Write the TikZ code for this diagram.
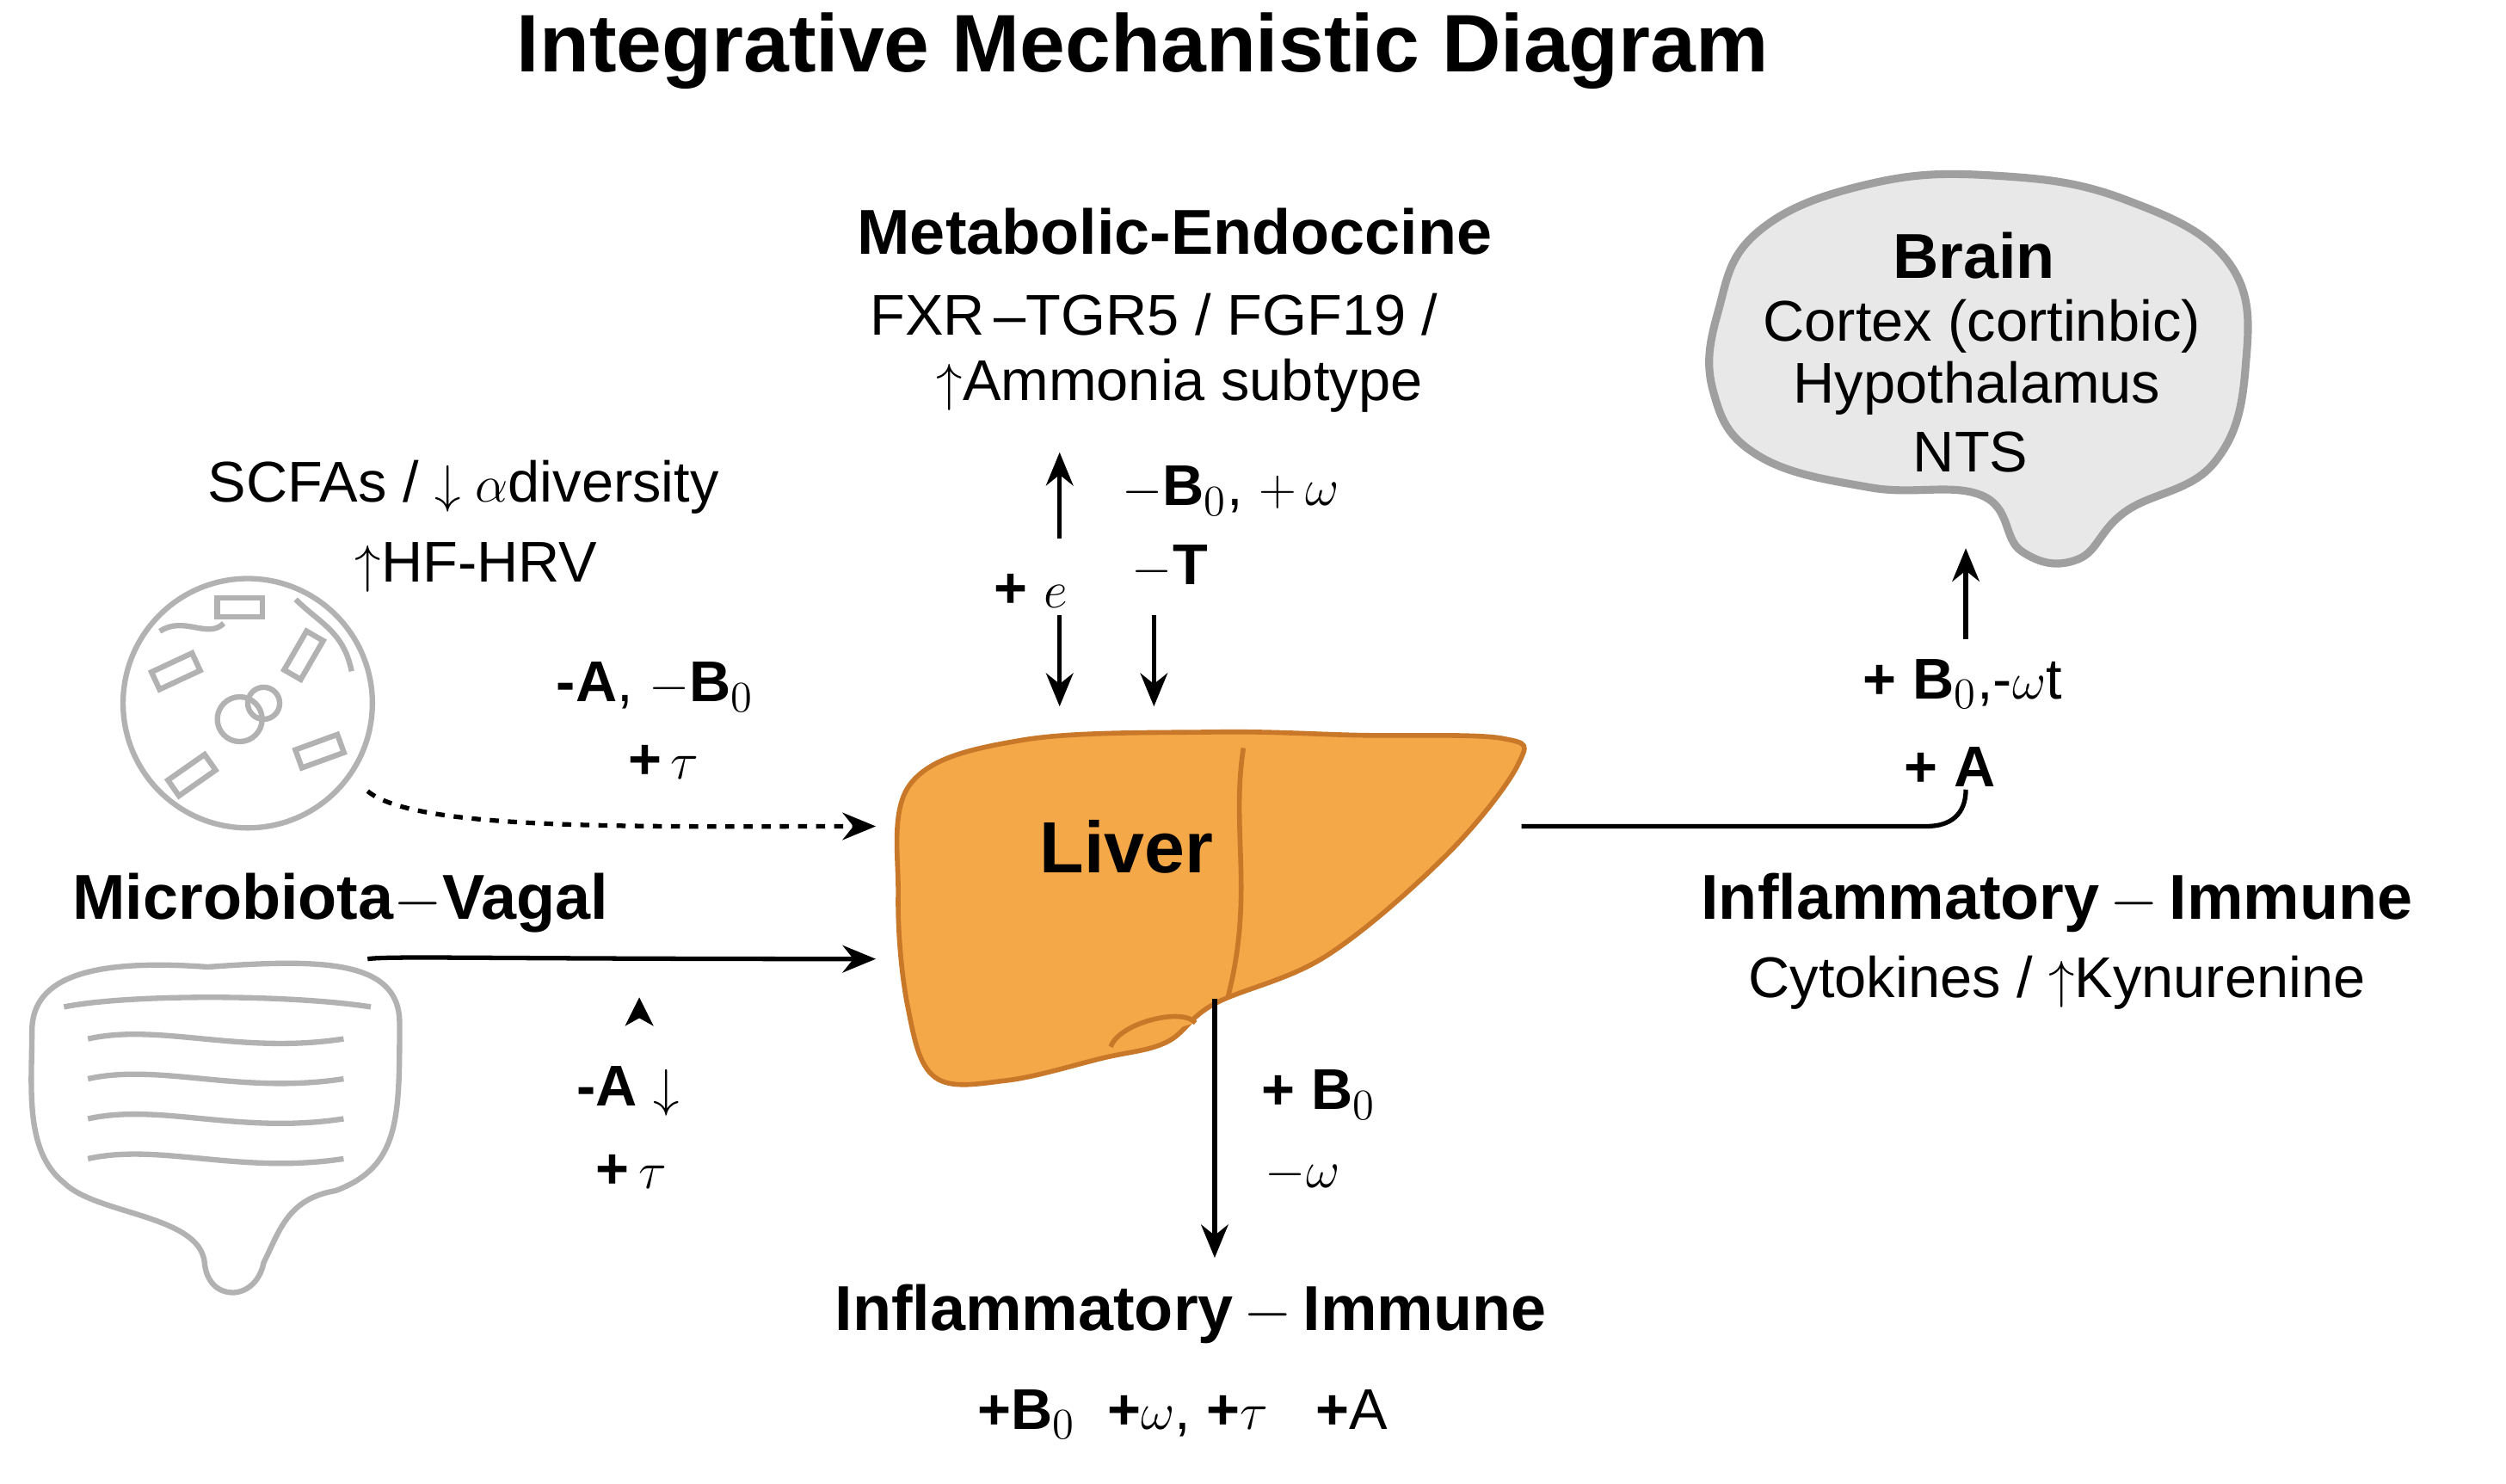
\documentclass[tikz,border=0pt]{standalone}
\usepackage{fontspec}
\setmainfont{Liberation Sans}
\usetikzlibrary{arrows.meta}
\definecolor{liverorange}{RGB}{245,168,72}
\definecolor{liveredge}{RGB}{200,120,40}
\definecolor{braingray}{RGB}{232,232,232}
\begin{document}
\begin{tikzpicture}[x=0.01858cm,y=-0.01858cm,
  txt/.style={font=\fontsize{19}{22}\selectfont},
  head/.style={font=\fontsize{21}{25}\selectfont\bfseries},
  arr/.style={line width=1.5pt,-{Stealth[length=11pt,width=9pt]}},
  sketch/.style={gray!60,line width=1.8pt}]
 \useasboundingbox (0,0) rectangle (1568,928);

 % title
 \node (title) [font=\fontsize{27}{32}\selectfont\bfseries] at (715,32) {Integrative Mechanistic Diagram};

 % liver
 \draw[liveredge,fill=liverorange,line width=1.6pt] plot[smooth cycle,tension=0.6] coordinates
  {(570,490) (640,463) (760,458) (850,460) (940,462) (950,478) (905,535) (830,598) (760,628) (730,652) (690,662) (630,676) (585,674) (568,630) (562,560)};
 \draw[liveredge,line width=1.6pt] (778,468) .. controls (770,520) and (785,560) .. (768,625);
 \draw[liveredge,fill=liverorange,line width=1.6pt] (695,655) .. controls (700,640) and (740,630) .. (748,640);
 \node (liver) [font=\fontsize{24}{28}\selectfont\bfseries] at (705,530) {Liver};
 \coordinate (lvL1) at (548,517);
 \coordinate (lvL2) at (548,600);
 \coordinate (lvR) at (952,517);

 % metabolic-endocrine
 \node (meta) [head] at (735,145) {Metabolic-Endoccine};
 \node (meta1) [txt] at (722,197) {FXR\,–TGR5 / FGF19 /};
 \node (meta2) [txt] at (738,241) {$\uparrow$Ammonia subtype};
 \coordinate (up0) at (663,337);
 \coordinate (up1) at (663,283);
 \coordinate (dnA0) at (663,385);
 \coordinate (dnA1) at (663,442);
 \coordinate (dnB0) at (722,385);
 \coordinate (dnB1) at (722,442);
 \draw[arr] (up0) -- (up1);
 \draw[arr] (dnA0) -- (dnA1);
 \draw[arr] (dnB0) -- (dnB1);
 \node (mlab1) [txt] at (770,307) {$-\mathbf{B}_0$, $+\,\omega$};
 \node (mlab2) [txt] at (645,370) {\textbf{+} $e$};
 \node (mlab3) [txt] at (732,355) {$-$\textbf{T}};

 % brain
 \draw[gray!75,fill=braingray,line width=2.6pt] plot[smooth cycle,tension=0.7] coordinates
  {(1075,195) (1100,145) (1170,115) (1250,110) (1330,125) (1395,165) (1405,230) (1385,290) (1330,320) (1300,350) (1265,345) (1240,310) (1170,305) (1100,285) (1072,245)};
 \node (brain) [head] at (1235,160) {Brain};
 \node (brain1) [txt] at (1240,204) {Cortex (cortinbic)};
 \node (brain2) [txt] at (1237,243) {Hypothalamus};
 \node (brain3) [txt] at (1233,283) {NTS};
 \coordinate (br0) at (1230,400);
 \coordinate (br1) at (1230,343);
 \draw[arr] (br0) -- (br1);
 \node (blab1) [txt] at (1228,428) {\textbf{+ B}$_0$,-$\omega$t};
 \node (blab2) [txt] at (1220,480) {\textbf{+ A}};
 \coordinate (brEnd) at (1230,494);
 \draw[line width=1.5pt] (lvR) -- (1205,517) .. controls (1225,517) and (1230,505) .. (brEnd);

 % inflammatory right
 \node (infR) [head] at (1287,565) {Inflammatory$\,-\,$Immune};
 \node (infR1) [txt] at (1287,615) {Cytokines / $\uparrow$Kynurenine};

 % inflammatory bottom
 \coordinate (dn0) at (760,625);
 \coordinate (dn1) at (760,787);
 \draw[arr] (dn0) -- (dn1);
 \node (ilab1) [txt] at (825,685) {\textbf{+ B}$_0$};
 \node (ilab2) [txt] at (815,735) {$-\omega$};
 \node (infB) [head] at (745,822) {Inflammatory$\,-\,$Immune};
 \node (infB1) [txt] at (740,885) {\textbf{+B}$_0$\ \ \textbf{+}$\omega$, \textbf{+}$\tau$\ \ \ \textbf{+}A};

 % microbiota
 \node (scfa) [txt] at (290,305) {SCFAs / $\downarrow\alpha$diversity};
 \node (hrv) [txt] at (298,355) {$\uparrow$HF-HRV};
 \draw[sketch] (155,440) circle (78);
 \foreach \p/\r in {{(110,420)}/25, {(200,470)}/20, {(120,485)}/35, {(150,380)}/0, {(190,410)}/60}
  \draw[sketch,rotate around={\r:\p}] \p ++(-14,-6) rectangle ++(28,12);
 \draw[sketch] (150,450) circle (14) (165,440) circle (10);
 \draw[sketch] (100,395) .. controls (115,385) and (130,400) .. (140,390);
 \draw[sketch] (185,375) .. controls (200,390) and (215,395) .. (220,420);
 \node (mlab4) [txt] at (410,430) {\textbf{-A}, $-$\textbf{B}$_0$};
 \node (mlab5) [txt] at (415,477) {\textbf{+}$\,\tau$};
 \coordinate (mic) at (230,495);
 \draw[arr,dashed] (mic) .. controls (260,520) and (400,517) .. (lvL1);

 \node (mv) [head] at (213,565) {Microbiota$-$Vagal};
 \draw[sketch] (20,645) .. controls (20,610) and (60,600) .. (130,605)
  .. controls (200,600) and (250,600) .. (250,640) .. controls (250,700) and (250,730) .. (210,745)
  .. controls (180,750) and (175,770) .. (165,790) .. controls (160,815) and (130,815) .. (128,790)
  .. controls (125,760) and (60,760) .. (40,740) .. controls (15,720) and (20,680) .. (20,645);
 \foreach \yy in {650,675,700,725}
  \draw[sketch] (55,\yy) .. controls (100,\yy-10) and (150,\yy+10) .. (215,\yy);
 \draw[sketch] (40,630) .. controls (80,622) and (180,622) .. (232,630);
 \coordinate (vag) at (230,600);
 \draw[arr] (vag) .. controls (245,598) and (300,600) .. (lvL2);
 \fill (400,624) -- (409,642) -- (400,637) -- (391,642) -- cycle;
 \node (vlab1) [txt] at (393,683) {\textbf{-A} $\downarrow$};
 \node (vlab2) [txt] at (395,733) {\textbf{+}$\,\tau$};
\end{tikzpicture}
\end{document}
